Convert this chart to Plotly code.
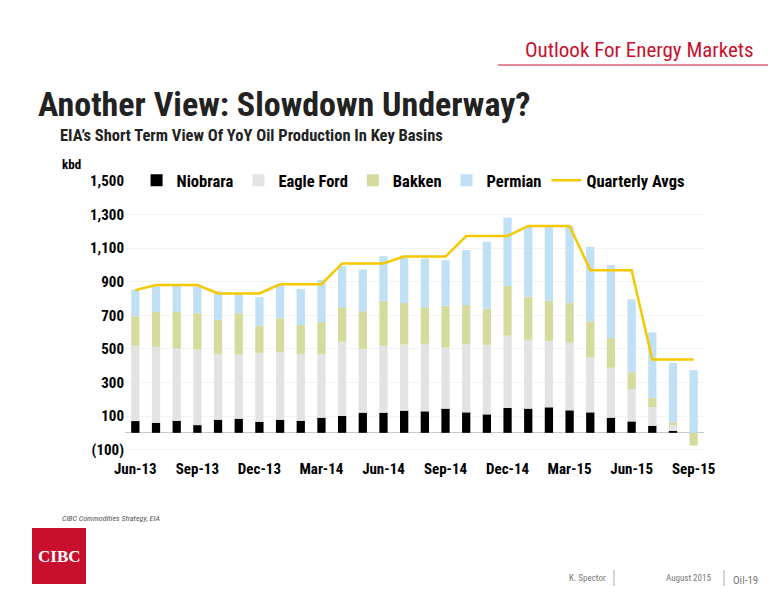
import plotly.graph_objects as go

months = ["Jun-13","Jul-13","Aug-13","Sep-13","Oct-13","Nov-13","Dec-13","Jan-14","Feb-14","Mar-14","Apr-14","May-14",
          "Jun-14","Jul-14","Aug-14","Sep-14","Oct-14","Nov-14","Dec-14","Jan-15","Feb-15","Mar-15","Apr-15","May-15",
          "Jun-15","Jul-15","Aug-15","Sep-15"]
niobrara = [70,60,72,46,78,84,66,78,72,90,100,120,120,132,128,144,122,110,148,144,152,134,122,90,68,42,12,0]
eagle_ford = [448,452,430,450,392,382,410,402,398,380,442,380,398,394,402,364,406,414,430,410,396,402,327,297,193,112,34,0]
bakken = [176,208,218,216,203,246,162,202,172,190,205,224,269,247,217,249,233,216,297,257,239,237,215,177,100,53,16,-76]
permian = [159,153,157,161,170,111,169,197,215,251,246,249,265,284,291,271,327,398,407,415,439,459,444,435,434,391,355,373]
quarterly = [850,880,880,880,830,830,830,885,885,885,1009,1009,1009,1050,1050,1050,1172,1172,1172,1232,1232,1232,969,969,969,437,437,437]
tick_labels = ["Jun-13","Sep-13","Dec-13","Mar-14","Jun-14","Sep-14","Dec-14","Mar-15","Jun-15","Sep-15"]
y_ticks = [-100,100,300,500,700,900,1100,1300,1500]
y_tick_text = ["<b>(100)</b>","<b>100</b>","<b>300</b>","<b>500</b>","<b>700</b>","<b>900</b>","<b>1,100</b>","<b>1,300</b>","<b>1,500</b>"]

FONT = "Roboto Condensed, Liberation Sans Narrow, Roboto, Liberation Sans"
T, B, L, R = 173, 150, 117, 80
PH = 600 - T - B
PW = 776 - L - R

fig = go.Figure()
for name, vals, col in [("Niobrara", niobrara, "#000000"), ("Eagle Ford", eagle_ford, "#e3e3e3"),
                        ("Bakken", bakken, "#d4db9c"), ("Permian", permian, "#bfe0f5")]:
    fig.add_bar(x=months, y=vals, name="<b>%s</b>" % name, marker=dict(color=col, line=dict(width=0)))
fig.add_scatter(x=months, y=quarterly, name="<b>Quarterly Avgs</b>", mode="lines",
                line=dict(color="#f5c800", width=2.5))

fig.update_layout(
    barmode="relative", width=776, height=600,
    paper_bgcolor="white", plot_bgcolor="white",
    margin=dict(l=L, r=R, t=T, b=B),
    font=dict(family=FONT, color="#000"),
    showlegend=True,
    legend=dict(orientation="h", x=0.02, y=1.065, xanchor="left", yanchor="top",
                font=dict(size=16.5, family=FONT, color="#000"),
                traceorder="normal", bgcolor="rgba(0,0,0,0)"),
    xaxis=dict(tickmode="array", tickvals=tick_labels, ticktext=["<b>%s</b>" % t for t in tick_labels], showgrid=False,
               tickfont=dict(size=15, family=FONT), showline=False, ticks="", automargin=False),
    yaxis=dict(range=[-150,1500], tickvals=y_ticks, ticktext=y_tick_text,
               tickfont=dict(size=15, family=FONT),
               showgrid=True, gridcolor="#f3f3f3", zeroline=True, zerolinecolor="#c8c8c8",
               zerolinewidth=1, automargin=False),
)
fig.update_traces(width=0.4, selector=dict(type="bar"))

def px(x, y):
    return (x - L) / PW, 1 - (y - T) / PH

ann = [
    (748, 42, "Outlook For Energy Markets", dict(size=21, color="#c8102e"), "right"),
    (28, 96, "<b>Another View: Slowdown Underway?</b>", dict(size=34, color="#222"), "left"),
    (50, 128, "<b>EIA’s Short Term View Of YoY Oil Production In Key Basins</b>", dict(size=16.5, color="#222"), "left"),
    (52, 156, "<b>kbd</b>", dict(size=13), "left"),
    (52, 510, "<i>CIBC Commodities Strategy, EIA</i>", dict(size=8, color="#555"), "left"),
    (600, 570, "K. Spector", dict(size=9, color="#777"), "right"),
    (705, 570, "August 2015", dict(size=9, color="#777"), "right"),
    (752, 572, "Oil-19", dict(size=11, color="#777"), "right"),
    (51, 548, "<b>CIBC</b>", dict(size=17, color="white", family="Liberation Serif"), "center"),
]
annotations = []
for x, y, text, f, xa in ann:
    f.setdefault("family", FONT)
    ax, ay = px(x, y)
    annotations.append(dict(x=ax, y=ay, xref="paper", yref="paper", text=text, font=f,
                            showarrow=False, xanchor=xa, yanchor="middle"))
fig.update_layout(annotations=annotations)

shapes = []
x0, y1 = px(24, 520); x1, y0 = px(78, 576)
shapes.append(dict(type="rect", xref="paper", yref="paper", x0=x0, x1=x1, y0=y0, y1=y1, fillcolor="#c8102e", line=dict(width=0)))
a0, b0 = px(490, 57); a1, _ = px(776, 57)
shapes.append(dict(type="line", xref="paper", yref="paper", x0=a0, x1=a1, y0=b0, y1=b0, line=dict(color="#c8102e", width=1)))
for xx in (606, 716):
    p, q0 = px(xx, 562); _, q1 = px(xx, 578)
    shapes.append(dict(type="line", xref="paper", yref="paper", x0=p, x1=p, y0=q0, y1=q1, line=dict(color="#aaa", width=1)))
fig.update_layout(shapes=shapes)
fig.write_html("out.html")
